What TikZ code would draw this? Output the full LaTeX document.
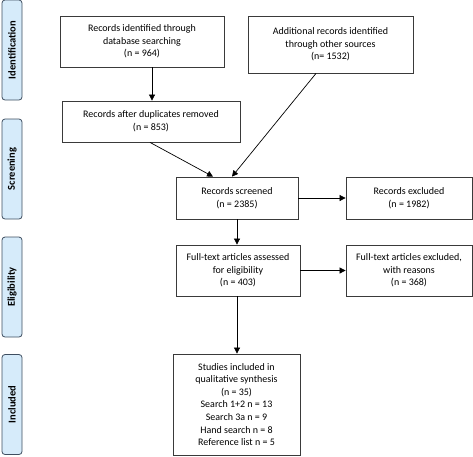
\documentclass[tikz,border=0pt]{standalone}
\usepackage{fontspec}
\setmainfont{Carlito}
\usetikzlibrary{arrows.meta,calc}
\definecolor{sidefill}{HTML}{D6EBFA}
\definecolor{sidedraw}{HTML}{3E4E60}
\definecolor{boxdraw}{HTML}{3A3A3A}
\tikzset{
  box/.style={draw=boxdraw, line width=0.8pt, fill=white, align=center, inner sep=2pt,
    font=\fontsize{10}{12.6}\selectfont},
  side/.style={draw=sidedraw, line width=0.8pt, fill=sidefill, rounded corners=3pt,
    minimum width=100pt, minimum height=20pt, rotate=90, inner sep=0pt,
    font=\bfseries\fontsize{10.5}{12}\selectfont},
  arr/.style={-{Triangle[length=6pt,width=6pt]}, line width=0.7pt, black},
}
\begin{document}
\begin{tikzpicture}[x=1pt,y=-1pt]
\useasboundingbox (0,0) rectangle (473,456);
% side labels
\node[side] (sid) at (12,50) {Identification};
\node[side] (ssc) at (12,169) {Screening};
\node[side] (sel) at (12,287) {Eligibility};
\node[side] (sin) at (12,404.5) {Included};
% boxes
\node[box, minimum width=164pt, minimum height=51pt] (b1) at (142,41.5)
  {Records identified through\\database searching\\(n = 964)};
\node[box, minimum width=165pt, minimum height=57pt] (b2) at (330.5,44.5)
  {Additional records identified\\through other sources\\(n= 1532)};
\node[box, minimum width=178pt, minimum height=41pt] (b3) at (151,121.5)
  {Records after duplicates removed\\(n = 853)};
\node[box, minimum width=122pt, minimum height=42pt] (b4) at (237,198)
  {Records screened\\(n = 2385)};
\node[box, minimum width=126pt, minimum height=42pt] (b5) at (409,198)
  {Records excluded\\(n = 1982)};
\node[box, minimum width=124pt, minimum height=51pt] (b6) at (238,270.5)
  {Full-text articles assessed\\for eligibility\\(n = 403)};
\node[box, minimum width=126pt, minimum height=51pt] (b7) at (409,270.5)
  {Full-text articles excluded,\\with reasons\\(n = 368)};
\node[box, minimum width=127pt, minimum height=101pt] (b8) at (236.5,404.5)
  {Studies included in\\qualitative synthesis\\(n = 35)\\Search 1+2 n = 13\\Search 3a n = 9\\Hand search n = 8\\Reference list n = 5};
% connectors
\draw[arr] ([xshift=10pt]b1.south) -- ([xshift=10pt]b1.south |- b3.north);
\draw[arr] ([xshift=-1pt]b3.south) -- ([xshift=-24pt]b4.north);
\draw[arr] ([xshift=-14.5pt]b2.south) -- ([xshift=-5pt]b4.north);
\draw[arr] (b4.east) -- (b5.west);
\draw[arr] (b4.south) -- (b4.south |- b6.north);
\draw[arr] (b6.east) -- (b7.west);
\draw[arr] ([xshift=-1pt]b6.south) -- ([xshift=-1pt]b6.south |- b8.north);
\end{tikzpicture}
\end{document}
